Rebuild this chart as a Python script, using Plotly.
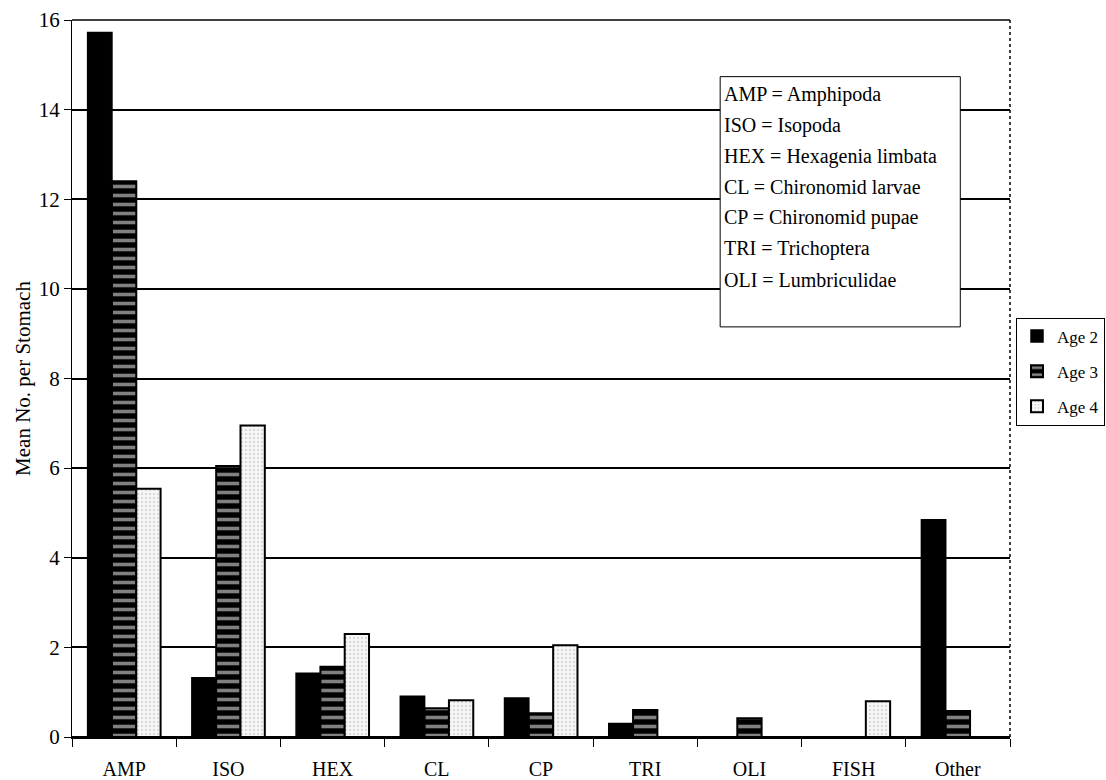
import plotly.graph_objects as go

categories = ["AMP", "ISO", "HEX", "CL", "CP", "TRI", "OLI", "FISH", "Other"]
age2 = [15.72, 1.32, 1.42, 0.91, 0.87, 0.3, 0, 0, 4.85]
age3 = [12.4, 6.05, 1.57, 0.64, 0.53, 0.6, 0.42, 0, 0.58]
age4 = [5.54, 6.95, 2.3, 0.82, 2.05, 0, 0, 0.8, 0]
series_names = ["Age 2", "Age 3", "Age 4"]
y_ticks = [0, 2, 4, 6, 8, 10, 12, 14, 16]
key_lines = [
    "AMP = Amphipoda",
    "ISO = Isopoda",
    "HEX = Hexagenia limbata",
    "CL = Chironomid larvae",
    "CP = Chironomid pupae",
    "TRI = Trichoptera",
    "OLI = Lumbriculidae",
]

FONT = "Liberation Serif"

fig = go.Figure()
fig.add_trace(go.Bar(
    x=categories, y=age2, name=series_names[0], legendgroup="g2",
    marker=dict(color="black", line=dict(color="black", width=1.5)),
))
fig.add_trace(go.Bar(
    x=categories, y=age3, name=series_names[1], legendgroup="g3",
    marker=dict(color="black", line=dict(color="black", width=2),
                pattern=dict(shape="-", bgcolor="black", fgcolor="white",
                             size=9, solidity=0.4, fillmode="overlay")),
))
fig.add_trace(go.Bar(
    x=categories, y=age4, name=series_names[2], legendgroup="g4",
    marker=dict(color="white", line=dict(color="black", width=2),
                pattern=dict(shape=".", bgcolor="#f6f6f6", fgcolor="#a8a8a8",
                             size=4, solidity=0.2)),
))

# key box
fig.add_shape(type="rect", xref="paper", yref="paper",
              x0=0.691, x1=0.947, y0=0.572, y1=0.921,
              line=dict(color="black", width=1), fillcolor="white", layer="above")
for i, t in enumerate(key_lines):
    fig.add_annotation(text=t, xref="paper", yref="paper",
                       x=0.693, y=0.896 - i * 0.043, xanchor="left", yanchor="middle",
                       showarrow=False, font=dict(family=FONT, size=20, color="black"))

# top border and dotted right border
fig.add_shape(type="line", xref="paper", yref="paper", x0=0, x1=1, y0=1, y1=1,
              line=dict(color="black", width=1.5), layer="below")
fig.add_shape(type="line", xref="paper", yref="paper", x0=1, x1=1, y0=0, y1=1,
              line=dict(color="black", width=1.5, dash="dot"), layer="above")

fig.update_layout(
    width=1106, height=780,
    margin=dict(l=72, r=96, t=20, b=43, autoexpand=False),
    paper_bgcolor="white", plot_bgcolor="white",
    barmode="group", bargap=0.3, bargroupgap=0,
    font=dict(family=FONT, color="black"),
    showlegend=True,
    legend=dict(x=1.0064, y=0.585, xanchor="left", yanchor="top",
                bordercolor="black", borderwidth=1, bgcolor="white",
                font=dict(family=FONT, size=17, color="black"),
                itemwidth=30, tracegroupgap=10),
    xaxis=dict(type="category", tickson="boundaries", ticks="outside", ticklen=8,
               tickcolor="black", showline=True, linecolor="black", linewidth=1.5,
               showgrid=False, tickfont=dict(family=FONT, size=20, color="black"),
               ticklabelstandoff=13),
    yaxis=dict(range=[0, 16], tickvals=y_ticks, ticks="outside", ticklen=7,
               tickcolor="black", showline=True, linecolor="black", linewidth=1,
               showgrid=True, gridcolor="black", gridwidth=1.5,
               zeroline=True, zerolinecolor="black", zerolinewidth=1.5,
               tickfont=dict(family=FONT, size=21, color="black"),
               title=dict(text="Mean No. per Stomach", font=dict(family=FONT, size=21, color="black"),
                          standoff=2)),
)

fig.write_html("out.html", config={"displayModeBar": False},
               post_script="document.body.style.margin='0px';")
